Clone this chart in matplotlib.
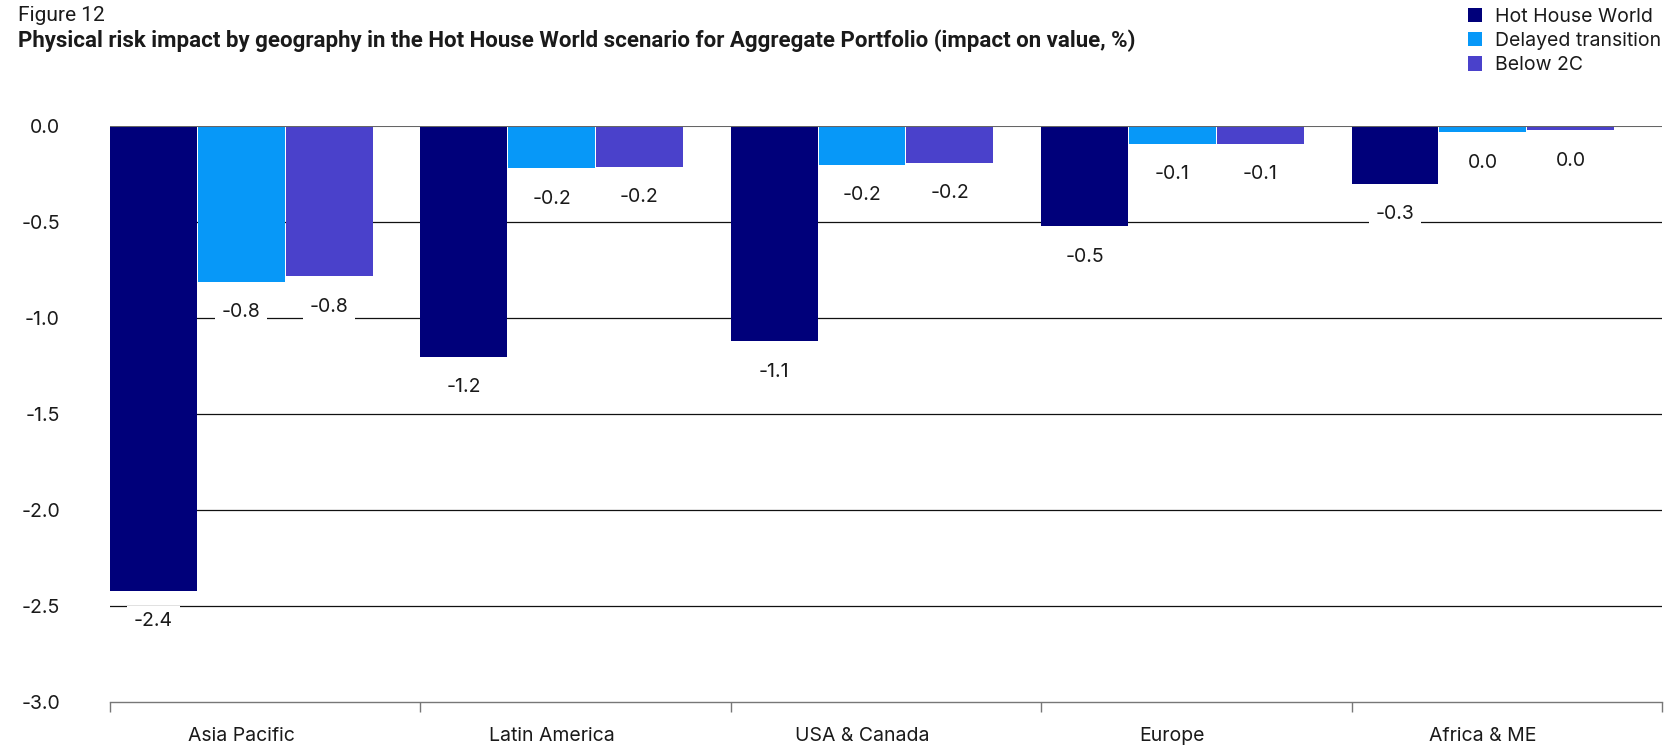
import matplotlib
matplotlib.use("Agg")
import matplotlib.pyplot as plt
import numpy as np

plt.rcParams['font.family'] = ['Inter', 'DejaVu Sans']

regions = ["Asia Pacific", "Latin America", "USA & Canada", "Europe", "Africa & ME"]
series_names = ["Hot House World", "Delayed transition", "Below 2C"]
hot_house = [-2.42, -1.20, -1.12, -0.52, -0.30]
delayed = [-0.81, -0.22, -0.20, -0.09, -0.03]
below_2c = [-0.78, -0.21, -0.19, -0.09, -0.02]
label_hot = ["-2.4", "-1.2", "-1.1", "-0.5", "-0.3"]
label_del = ["-0.8", "-0.2", "-0.2", "-0.1", "0.0"]
label_b2c = ["-0.8", "-0.2", "-0.2", "-0.1", "0.0"]
yticks = [0.0, -0.5, -1.0, -1.5, -2.0, -2.5, -3.0]

colors = ["#00007a", "#0798f8", "#4a41cb"]
txtc = '#1a1a1a'

fig = plt.figure(figsize=(16.76, 7.47), dpi=100)
ax = fig.add_axes([0.0656, 0.060, 0.926, 0.771])

x = np.arange(len(regions))
bw = 0.28
step = 0.283
group_center = -0.5 + 0.423
offsets = [-step, 0, step]
all_series = [hot_house, delayed, below_2c]
all_labels = [label_hot, label_del, label_b2c]

for s, (vals, labs, col, name) in enumerate(zip(all_series, all_labels, colors, series_names)):
    xs = x + group_center + offsets[s]
    ax.bar(xs, vals, width=bw, color=col, label=name, zorder=2)
    for xi, v, lab in zip(xs, vals, labs):
        ax.annotate(lab, (xi, v), xytext=(0, -22), textcoords='offset points',
                    ha='center', va='center', fontsize=14, color=txtc,
                    bbox=dict(boxstyle='square,pad=0.35', fc='white', ec='none'),
                    zorder=3)

ax.set_xlim(-0.5, 4.5)
ax.set_ylim(-3.0, 0.0)
ax.set_yticks(yticks)
ax.set_yticklabels([f"{t:.1f}" for t in yticks])
ax.tick_params(axis='y', length=0, pad=36, labelsize=14, labelcolor=txtc)

ax.set_xticks(x + group_center)
ax.set_xticklabels(regions)
ax.tick_params(axis='x', which='major', length=0, pad=18, labelsize=14, labelcolor=txtc)
ax.set_xticks(np.arange(-0.5, 5.0, 1.0), minor=True)
ax.tick_params(axis='x', which='minor', length=7, width=1, color='#777777', direction='out')

for t in yticks[1:-1]:
    ax.axhline(t, color='#111111', lw=0.9, zorder=1)
ax.axhline(0.0, color='#666666', lw=1.5, zorder=4)

for sp in ['top', 'right', 'left']:
    ax.spines[sp].set_visible(False)
ax.spines['bottom'].set_color('#777777')
ax.spines['bottom'].set_linewidth(1)

fig.text(0.011, 0.979, "Figure 12", fontsize=15, va='center', ha='left', color=txtc,
         family=['Roboto', 'DejaVu Sans'])
fig.text(0.011, 0.945, "Physical risk impact by geography in the Hot House World scenario for Aggregate Portfolio (impact on value, %)",
         fontsize=16, fontweight='bold', va='center', ha='left', color=txtc,
         family=['Roboto', 'DejaVu Sans'])

leg = ax.legend(loc='upper left', bbox_to_anchor=(0.871, 1.0), bbox_transform=fig.transFigure,
                frameon=False, fontsize=14, handlelength=0.75, handleheight=0.75,
                handletextpad=0.65, labelspacing=0.32, borderaxespad=0.0)
for txt in leg.get_texts():
    txt.set_color(txtc)

fig.savefig("out.png", dpi=100)
